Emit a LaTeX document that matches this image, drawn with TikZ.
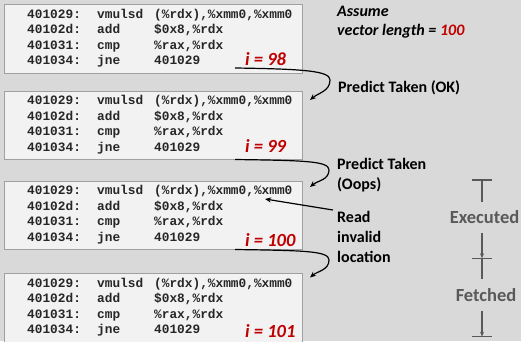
\documentclass[tikz,border=0pt]{standalone}
\usepackage{fontspec}
\setmainfont{Carlito}
\newfontfamily\codefont{Liberation Mono}
\usetikzlibrary{arrows.meta,calc}
\definecolor{bg}{HTML}{D9D9D9}
\definecolor{boxfill}{HTML}{F2F2F2}
\definecolor{boxline}{HTML}{A0A0A0}
\definecolor{ired}{HTML}{C00000}
\definecolor{tgray}{HTML}{595959}
\newcommand\asmbox[4]{%
  \node[codebox] (#1) at (4,#2) {};
  \node[code] (#1l1) at (27,#2+14) {\makebox[70pt][l]{401029:}\makebox[57pt][l]{vmulsd}(\%rdx),\%xmm0,\%xmm0};
  \node[code] (#1l2) at (27,#2+29.5) {\makebox[70pt][l]{40102d:}\makebox[57pt][l]{add}\$0x8,\%rdx};
  \node[code] (#1l3) at (27,#2+45) {\makebox[70pt][l]{401031:}\makebox[57pt][l]{cmp}\%rax,\%rdx};
  \node[code] (#1l4) at (27,#2+60.5) {\makebox[70pt][l]{401034:}\makebox[57pt][l]{jne}401029};
  \node[ilabel] (#1i) at (245,#2+#4) {i = #3};
}
\newcommand\bentarrow[3]{%
  \draw[conn] (#1) .. controls +(70,1) and +(0,-9) .. (#2) to[out=-90,in=40] (#3);
}
\begin{document}
\begin{tikzpicture}[x=1pt,y=-1pt,
  codebox/.style={draw=boxline, fill=boxfill, line width=1pt, minimum width=298pt, minimum height=68.5pt, inner sep=0pt, anchor=north west},
  code/.style={anchor=base west, inner sep=0pt, font=\codefont\bfseries\fontsize{12.8}{15}\selectfont, text=black!85},
  ilabel/.style={anchor=base west, inner sep=0pt, text=ired, font=\bfseries\itshape\fontsize{18.5}{20}\selectfont},
  note/.style={anchor=base west, inner sep=0pt, font=\bfseries\fontsize{16}{20}\selectfont},
  conn/.style={line width=1.2pt, -{Stealth[length=6pt,width=5pt]}},
  tl/.style={draw=tgray, line width=1.3pt},
  tlarrow/.style={tl, -{Stealth[length=5pt,width=4pt]}},
  tltext/.style={anchor=base, inner sep=0pt, text=tgray, font=\bfseries\fontsize{18.5}{20}\selectfont}]
\fill[bg] (0,0) rectangle (521,341);
\useasboundingbox (0,0) rectangle (521,341);
\clip (0,0) rectangle (521,341);

\asmbox{b1}{4}{98}{61}
\asmbox{b2}{90.7}{99}{62}
\asmbox{b3}{180.7}{100}{66}
\asmbox{b4}{273.3}{101}{64}

% notes
\node[note, font=\bfseries\itshape\fontsize{16}{20}\selectfont] (as1) at (337,16.7) {Assume};
\node[note, font=\bfseries\itshape\fontsize{16}{20}\selectfont] (as2) at (337,35.7) {vector length = \textcolor{ired}{100}};
\node[note] (pt1) at (338,92.7) {Predict Taken (OK)};
\node[note] (pt2) at (337,169.3) {Predict Taken};
\node[note] (pt3) at (337,189) {(Oops)};
\node[note] (rd1) at (337,222.7) {Read};
\node[note] (rd2) at (337,242.3) {invalid};
\node[note] (rd3) at (337,262.7) {location};

% bent arrows
\coordinate (c1s) at (235,68);   \coordinate (c1r) at (330,80);  \coordinate (c1t) at (310,100);
\coordinate (c2s) at (235,159.5);\coordinate (c2r) at (329,170); \coordinate (c2t) at (310,187);
\coordinate (c3s) at (235,249.5);\coordinate (c3r) at (329,260); \coordinate (c3t) at (310,277.5);
\bentarrow{c1s}{c1r}{c1t}
\bentarrow{c2s}{c2r}{c2t}
\bentarrow{c3s}{c3r}{c3t}

% read invalid location arrow
\coordinate (rds) at (333,210);
\coordinate (rdt) at (265,199);
\draw[conn] (rds) -- (rdt);

% timeline
\node[tltext] (exe) at (484.5,223.3) {Executed};
\node[tltext] (fet) at (486,301.7) {Fetched};
\draw[tl] (472,180) -- (492,180);
\draw[tl] (482,180) -- (482,202);
\draw[tlarrow] (482,233) -- (482,258.3);
\draw[tl] (472,258.3) -- (492,258.3);
\draw[tl] (482,258.3) -- (482,279.3);
\draw[tlarrow] (482,310.7) -- (482,336.7);
\draw[tl] (472,336.7) -- (492,336.7);
\end{tikzpicture}
\end{document}
